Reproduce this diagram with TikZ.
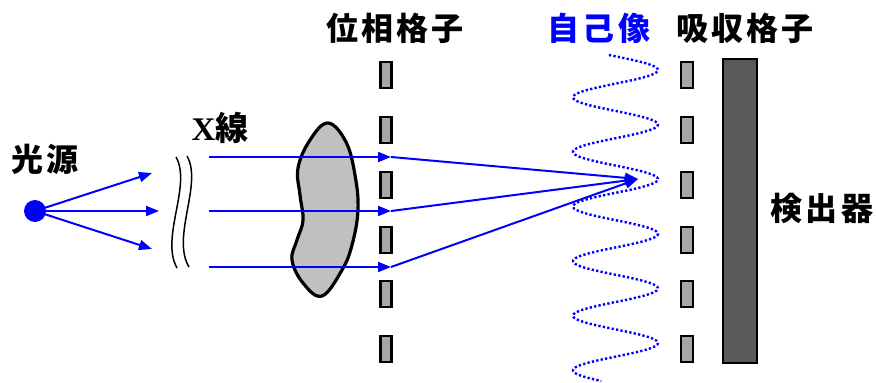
\documentclass[tikz,border=0pt]{standalone}
\usepackage{fontspec}
\usetikzlibrary{arrows.meta}
\newfontfamily\jpfont{Noto Sans CJK JP}[LetterSpace=10]
\newfontfamily\jpplain{Noto Sans CJK JP}
\newfontfamily\serifbold{Liberation Serif}
\definecolor{objgray}{HTML}{C0C0C0}
\definecolor{slitgray}{HTML}{A6A6A6}
\definecolor{detgray}{HTML}{595959}
\tikzset{
  lbl/.style={inner sep=0pt, font=\jpfont\bfseries\fontsize{32}{32}\selectfont},
  ray/.style={blue, line width=2pt, -{Triangle[length=13pt,width=10pt]}},
  slit/.style={draw, fill=slitgray, line width=2.2pt, minimum width=11pt, minimum height=26pt, inner sep=0pt},
  breakline/.style={line width=1.5pt},
}
\begin{document}
\begin{tikzpicture}[x=1pt, y=-1pt]
\path[use as bounding box] (0,0) rectangle (876,383);

% labels
\node[lbl] (lsrc) at (45,159) {光源};
\node[inner sep=0pt, font=\bfseries\fontsize{33}{33}\selectfont] (lx) at (220,128)
  {{\serifbold X}{\jpplain 線}};
\node[lbl] (lpg) at (395,28) {位相格子};
\node[lbl, text=blue] (limg) at (599,28) {自己像};
\node[lbl] (lag) at (745,28) {吸収格子};
\node[lbl] (ldet) at (822,208) {検出器};

% object
\draw[fill=objgray, line width=3.2pt] plot[smooth cycle, tension=0.65] coordinates {
  (328,123) (346,142) (355,175) (358,210) (352,245) (342,270)
  (322,296) (303,283) (292,260) (297,240) (303,220) (300,195)
  (298,168) (310,140)};

% phase grating and absorption grating
\foreach \i/\y in {1/75,2/130,3/185,4/240,5/294,6/349}{
  \node[slit] (pg\i) at (386,\y) {};
  \node[slit, minimum width=12pt] (ag\i) at (687,\y) {};
}

% detector
\node[draw, fill=detgray, line width=2.2pt, minimum width=34pt, minimum height=304pt, inner sep=0pt] (det) at (740,211) {};

% self image fringes
\draw[blue, line width=2.4pt, dash pattern=on 2.3pt off 2.2pt]
  plot[domain=55:381, samples=260, variable=\t] ({615.5+42.5*cos(6.5934*(\t-70))}, {\t});

% source and diverging rays
\coordinate (s0) at (35,211);
\coordinate (d1) at (152,173);
\coordinate (d2) at (159,211);
\coordinate (d3) at (152,249);
\draw[ray] (s0) -- (d1);
\draw[ray] (s0) -- (d2);
\draw[ray] (s0) -- (d3);
\node[circle, fill=blue, minimum size=22pt, inner sep=0pt] (src) at (s0) {};

% break marks
\draw[breakline] (176,157) .. controls (192,185) and (160,238) .. (177,268);
\draw[breakline] (187,156) .. controls (203,184) and (171,237) .. (189,267);

% parallel rays through the object to the phase grating
\coordinate (h1) at (209,157);
\coordinate (h2) at (209,211);
\coordinate (h3) at (209,267);
\coordinate (g1) at (391,157);
\coordinate (g2) at (391,211);
\coordinate (g3) at (391,267);
\coordinate (focus) at (638,179);
\draw[ray] (h1) -- (g1);
\draw[ray] (h2) -- (g2);
\draw[ray] (h3) -- (g3);
\draw[ray] (g1) -- (focus);
\draw[ray] (g2) -- (focus);
\draw[ray] (g3) -- (focus);
\end{tikzpicture}
\end{document}
